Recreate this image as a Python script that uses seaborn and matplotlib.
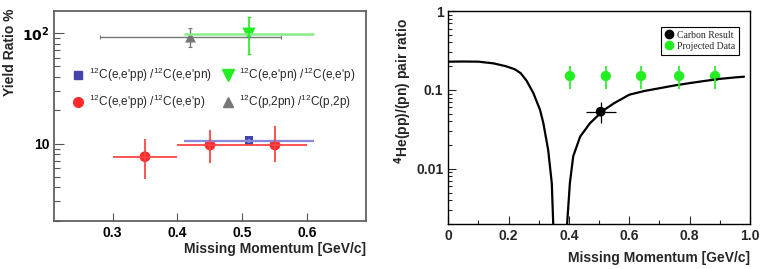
import numpy as np
import pandas as pd
import matplotlib
matplotlib.use('Agg')
import matplotlib.pyplot as plt
import seaborn as sns
from matplotlib.lines import Line2D

sns.set_style('ticks')
plt.rcParams['font.family'] = ['Liberation Sans', 'DejaVu Sans']
plt.rcParams['mathtext.fontset'] = 'custom'
plt.rcParams['mathtext.rm'] = 'Liberation Sans'

# ---- left panel data (yield ratios, %) ----
pp_pn_x = [0.51]
pp_pn_y = [10.6]
pp_pn_xerr = [0.10]
pp_pn_ylo = [10.1]
pp_pn_yhi = [11.1]

pp_p_x = [0.35, 0.45, 0.55]
pp_p_y = [7.6, 9.7, 9.7]
pp_p_xerr = [0.05, 0.05, 0.05]
pp_p_ylo = [4.8, 6.7, 6.8]
pp_p_yhi = [10.9, 13.2, 14.4]

pn_p_x = [0.51]
pn_p_y = [98]
pn_p_xerr = [0.10]
pn_p_ylo = [65]
pn_p_yhi = [140]

p2pn_x = [0.42]
p2pn_y = [92]
p2pn_xlo = [0.28]
p2pn_xhi = [0.56]
p2pn_ylo = [75]
p2pn_yhi = [111]

labels_left = [
    r"$^{12}$C(e,e'pp) /$^{12}$C(e,e'pn)",
    r"$^{12}$C(e,e'pp) /$^{12}$C(e,e'p)",
    r"$^{12}$C(e,e'pn) /$^{12}$C(e,e'p)",
    r"$^{12}$C(p,2pn) /$^{12}$C(p,2p)",
]

# ---- right panel data ----
curve_x = [0.00, 0.05, 0.10, 0.15, 0.19, 0.22, 0.24, 0.26, 0.282, 0.304, 0.315,
           0.331, 0.343, 0.349, 0.352, 0.389, 0.393, 0.403, 0.414, 0.437, 0.47,
           0.514, 0.55, 0.60, 0.65, 0.70, 0.75, 0.80, 0.85, 0.90, 0.95, 0.98]
curve_y = [0.228, 0.229, 0.228, 0.217, 0.200, 0.183, 0.163, 0.130, 0.091, 0.056, 0.038,
           0.0174, 0.0066, 0.0015, 0.0005, 0.0005, 0.0018, 0.0066, 0.0144, 0.0256, 0.038,
           0.055, 0.068, 0.087, 0.097, 0.105, 0.114, 0.122, 0.130, 0.138, 0.144, 0.147]

carbon_x = [0.505]
carbon_y = [0.053]
carbon_xerr = [0.05]
carbon_ylo = [0.038]
carbon_yhi = [0.071]

proj_x = [0.403, 0.522, 0.639, 0.765, 0.884]
proj_y = [0.150, 0.150, 0.150, 0.150, 0.150]
proj_ylo = [0.102, 0.102, 0.102, 0.102, 0.102]
proj_yhi = [0.200, 0.200, 0.200, 0.200, 0.200]

blue = '#4444aa'
red = '#ff2a2a'
green = '#22ee22'
gray = '#777777'

fig = plt.figure(figsize=(7.65, 2.69), dpi=100)
ax1 = fig.add_axes([0.0706, 0.1796, 0.4078, 0.7807])
ax2 = fig.add_axes([0.586, 0.1673, 0.3944, 0.7918])


def yerr(y, lo, hi):
    y = np.array(y)
    return [y - np.array(lo), np.array(hi) - y]


# left panel
ax1.set_yscale('log')
ax1.errorbar(p2pn_x, p2pn_y, xerr=[np.array(p2pn_x) - p2pn_xlo, np.array(p2pn_xhi) - p2pn_x],
             yerr=yerr(p2pn_y, p2pn_ylo, p2pn_yhi), fmt='none', ecolor=gray, lw=1.0,
             capsize=1.5, capthick=0.8)
ax1.errorbar(pn_p_x, pn_p_y, xerr=pn_p_xerr, fmt='none', ecolor='#88ee88', lw=1.8)
ax1.errorbar(pn_p_x, pn_p_y, yerr=yerr(pn_p_y, pn_p_ylo, pn_p_yhi), fmt='none',
             ecolor=green, lw=1.2, capsize=1.5, capthick=0.8)
ax1.errorbar(pp_pn_x, pp_pn_y, xerr=pp_pn_xerr, yerr=yerr(pp_pn_y, pp_pn_ylo, pp_pn_yhi),
             fmt='none', ecolor='#8888dd', lw=1.6)
ax1.errorbar(pp_p_x, pp_p_y, xerr=pp_p_xerr, yerr=yerr(pp_p_y, pp_p_ylo, pp_p_yhi),
             fmt='none', ecolor='#ff4444', lw=1.3)

sns.scatterplot(x=pp_pn_x, y=pp_pn_y, marker='s', color=blue, s=40, edgecolor='none', ax=ax1)
sns.scatterplot(x=pp_p_x, y=pp_p_y, marker='o', color=red, s=60, edgecolor='none', ax=ax1)
sns.scatterplot(x=pn_p_x, y=pn_p_y, marker='v', color=green, s=90, edgecolor='none', ax=ax1)
sns.scatterplot(x=p2pn_x, y=p2pn_y, marker='^', color=gray, s=60, edgecolor='none', ax=ax1)

ax1.set_xlim(0.21, 0.69)
ax1.set_ylim(2, 160)
ax1.set_xticks([0.3, 0.4, 0.5, 0.6])
ax1.set_xticklabels(['0.3', '0.4', '0.5', '0.6'])
ax1.set_yticks([10, 100])
ax1.set_yticklabels(['10', r'$\mathbf{10^2}$'])
ax1.set_yticks([2, 3, 4, 5, 6, 7, 8, 9, 20, 30, 40, 50, 60, 70, 80, 90], minor=True)
ax1.yaxis.set_minor_formatter(plt.NullFormatter())
ax1.tick_params(axis='both', which='both', direction='in', labelsize=10, width=0.8,
                colors='#555555', labelcolor='black')
ax1.tick_params(axis='y', which='major', length=7)
ax1.tick_params(axis='y', which='minor', length=4)
ax1.tick_params(axis='x', which='major', length=6)
ax1.tick_params(axis='x', which='minor', length=0)
for lab in ax1.get_xticklabels() + ax1.get_yticklabels():
    lab.set_fontweight('bold')
for sp in ax1.spines.values():
    sp.set_color('#555555')
    sp.set_linewidth(1.2)
ax1.set_xlabel('Missing Momentum [GeV/c]', loc='right', fontsize=10, fontweight='bold', labelpad=2)
ax1.set_ylabel('Yield Ratio %', loc='top', fontsize=10, fontweight='bold')
ax1.yaxis.set_label_coords(-0.118, 1.01)

handles_left = [
    Line2D([], [], marker='s', color=blue, ls='none', ms=6),
    Line2D([], [], marker='o', color=red, ls='none', ms=7),
    Line2D([], [], marker='v', color=green, ls='none', ms=9),
    Line2D([], [], marker='^', color=gray, ls='none', ms=7),
]
ax1.legend(handles_left, labels_left, ncol=2, frameon=False, loc='upper left',
           bbox_to_anchor=(0.04, 0.76), borderaxespad=0, fontsize=8.5,
           handletextpad=0.3, labelspacing=0.75, columnspacing=0.8, handlelength=1.2)

# right panel
ax2.set_yscale('log')
curve = pd.DataFrame({'p': curve_x, 'ratio': curve_y})
sns.lineplot(data=curve, x='p', y='ratio', color='black', lw=1.6, ax=ax2)
ax2.errorbar(proj_x, proj_y, yerr=yerr(proj_y, proj_ylo, proj_yhi), fmt='none',
             ecolor=green, lw=1.2)
ax2.errorbar(carbon_x, carbon_y, xerr=carbon_xerr, yerr=yerr(carbon_y, carbon_ylo, carbon_yhi),
             fmt='none', ecolor='black', lw=0.9)
sns.scatterplot(x=proj_x, y=proj_y, marker='o', color=green, s=55, edgecolor='none', ax=ax2)
sns.scatterplot(x=carbon_x, y=carbon_y, marker='o', color='black', s=50, edgecolor='none', ax=ax2)

ax2.set_xlim(0, 1.0)
ax2.set_ylim(0.002, 1)
ax2.set_xticks([0, 0.2, 0.4, 0.6, 0.8, 1.0])
ax2.set_xticklabels(['0', '0.2', '0.4', '0.6', '0.8', '1.0'])
ax2.set_xticks([0.1, 0.3, 0.5, 0.7, 0.9], minor=True)
ax2.set_yticks([0.01, 0.1, 1])
ax2.set_yticklabels(['0.01', '0.1', '1'])
ax2.set_yticks([0.002, 0.003, 0.004, 0.005, 0.006, 0.007, 0.008, 0.009,
                0.02, 0.03, 0.04, 0.05, 0.06, 0.07, 0.08, 0.09,
                0.2, 0.3, 0.4, 0.5, 0.6, 0.7, 0.8, 0.9], minor=True)
ax2.yaxis.set_minor_formatter(plt.NullFormatter())
ax2.tick_params(axis='both', which='both', direction='in', labelsize=10, width=0.8)
ax2.tick_params(axis='both', which='major', length=6)
ax2.tick_params(axis='both', which='minor', length=3)
for lab in ax2.get_xticklabels() + ax2.get_yticklabels():
    lab.set_fontweight('bold')
for sp in ax2.spines.values():
    sp.set_color('black')
    sp.set_linewidth(1.0)
ax2.set_xlabel('Missing Momentum [GeV/c]', loc='right', fontsize=10, fontweight='bold', labelpad=6)
ax2.set_ylabel(r'$^{\mathbf{4}}$He(pp)/(pn) pair ratio', loc='top', fontsize=10,
               fontweight='bold')
ax2.yaxis.set_label_coords(-0.115, 0.967)

handles_right = [
    Line2D([], [], marker='o', color='black', ls='none', ms=6),
    Line2D([], [], marker='o', color=green, ls='none', ms=6),
]
leg = ax2.legend(handles_right, ['Carbon Result', 'Projected Data'], loc='upper right',
                 bbox_to_anchor=(0.964, 0.925), borderaxespad=0, fancybox=False,
                 framealpha=1, edgecolor='black', handletextpad=0.3, handlelength=1.0,
                 borderpad=0.4, labelspacing=0.2,
                 prop={'family': 'Liberation Serif', 'size': 7})
leg.get_frame().set_linewidth(0.8)

fig.savefig('out.png', dpi=100)
